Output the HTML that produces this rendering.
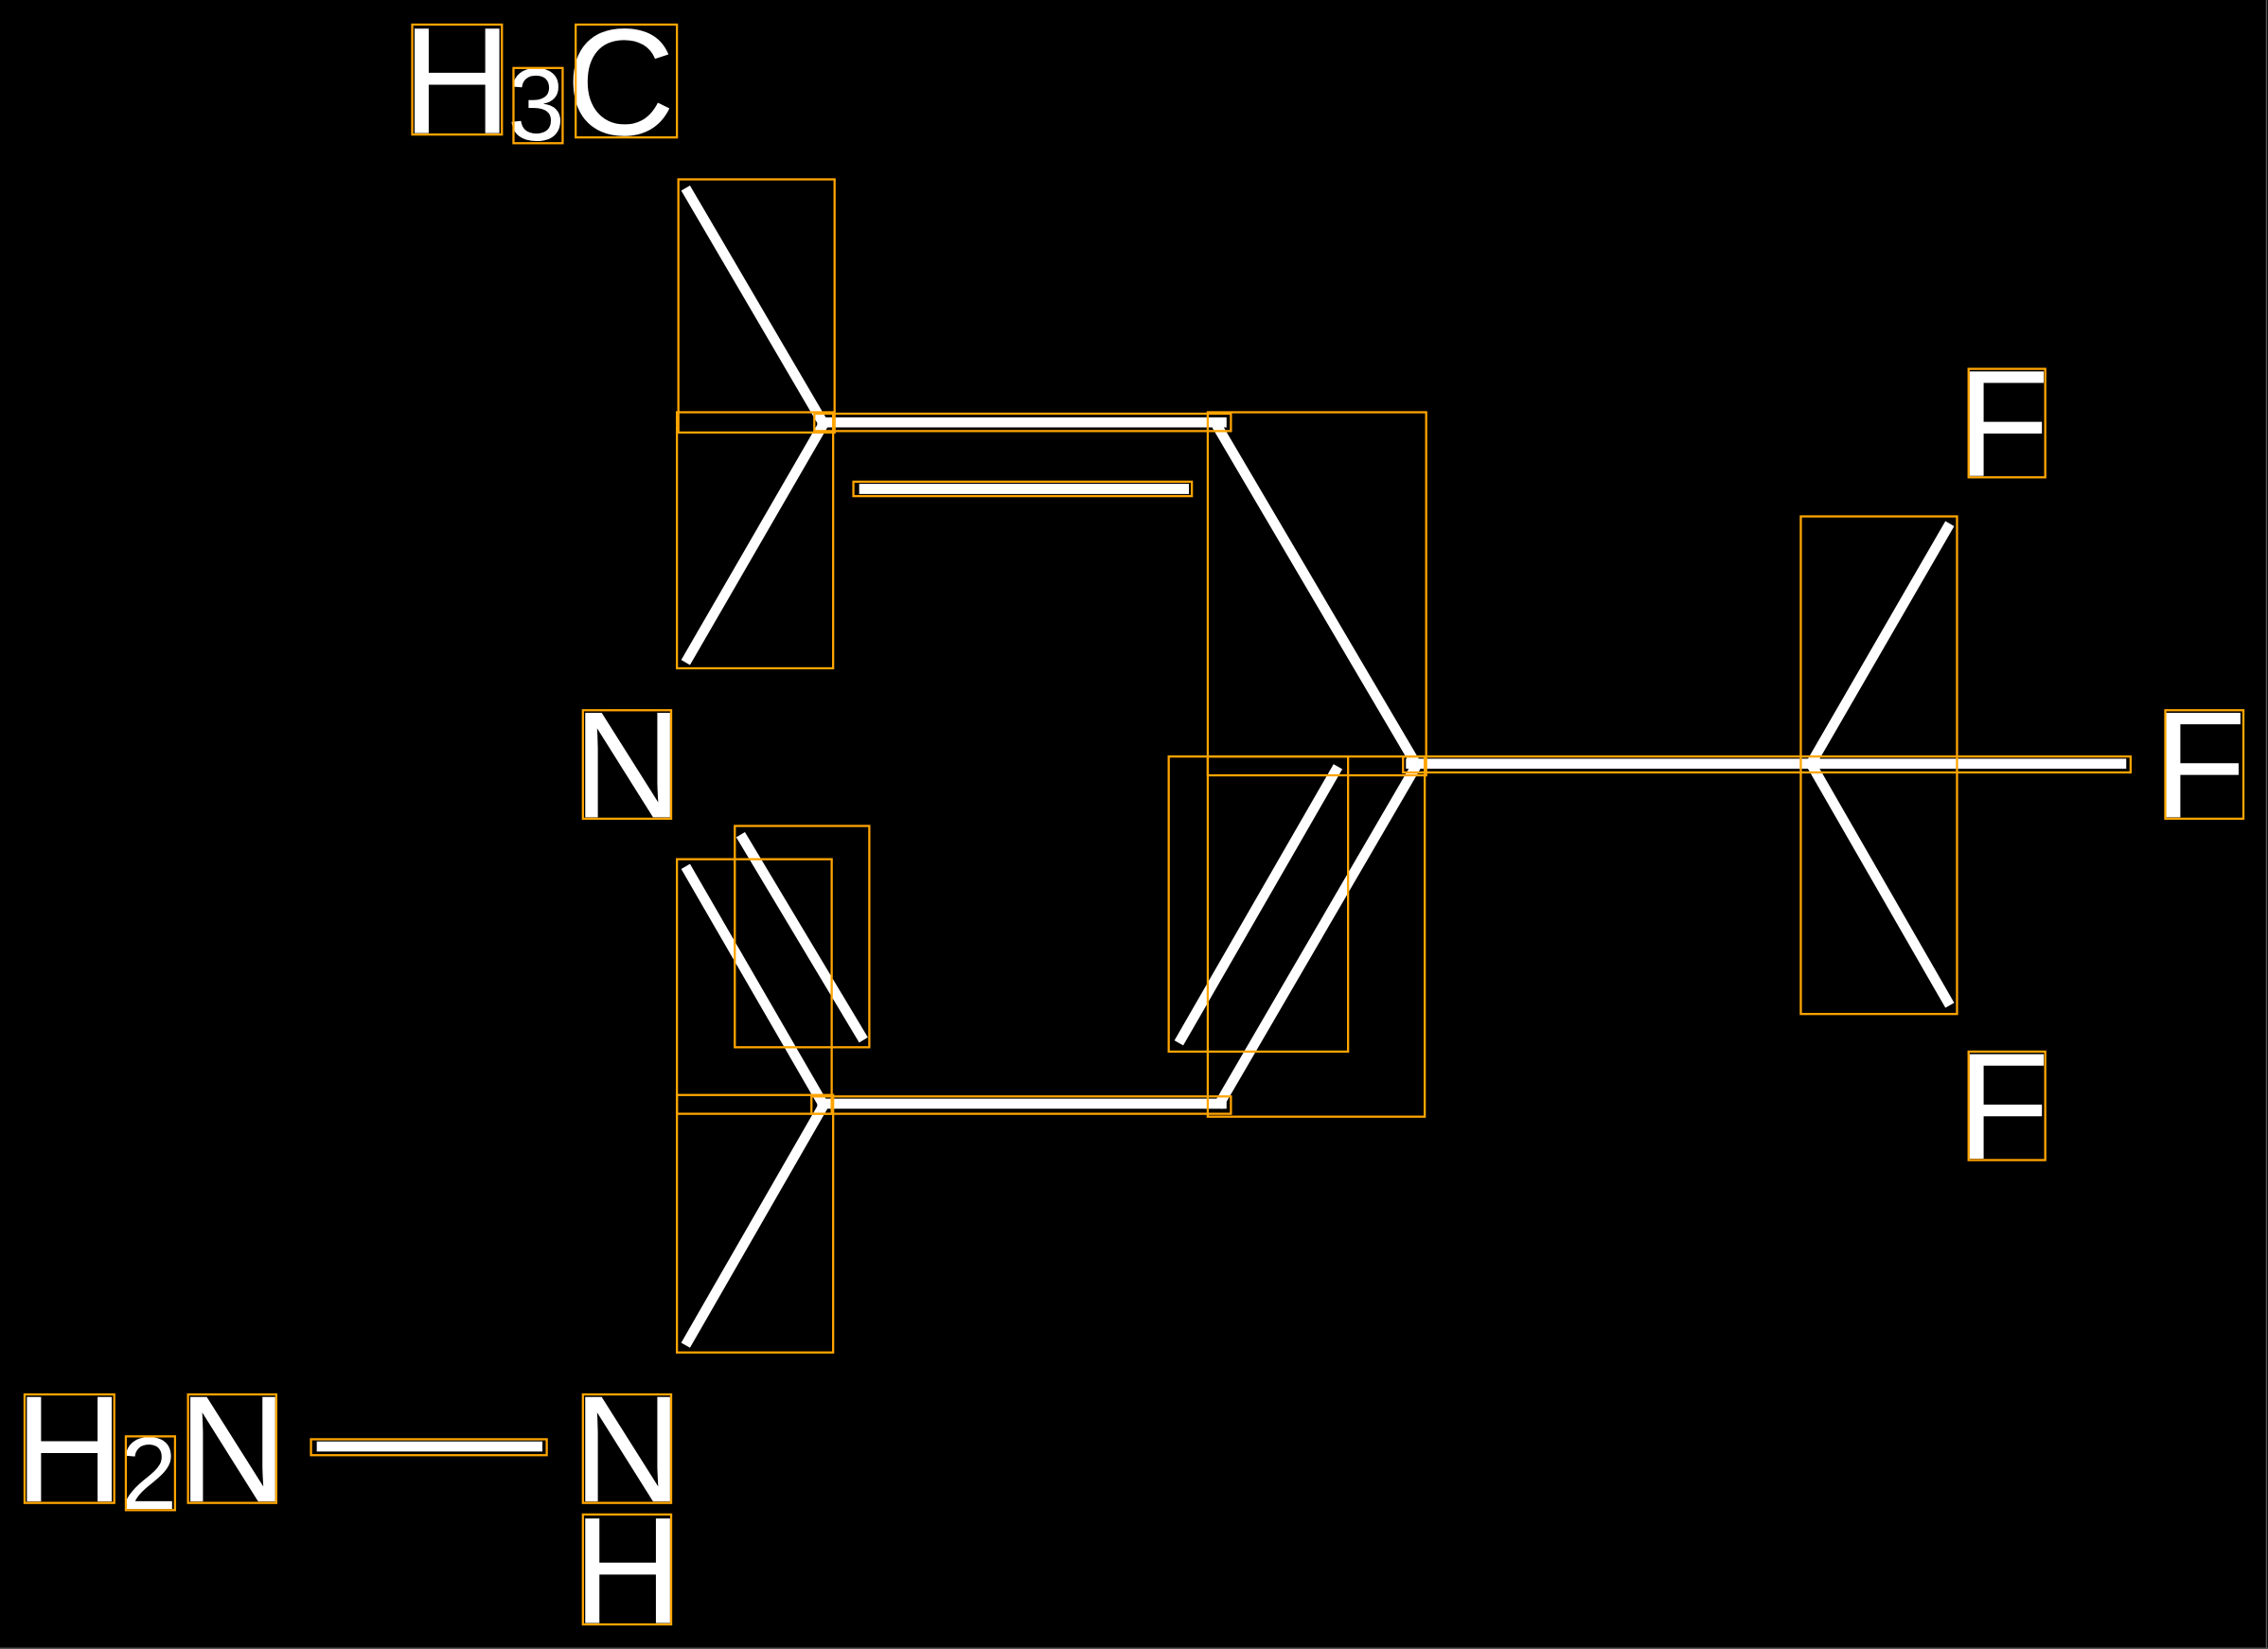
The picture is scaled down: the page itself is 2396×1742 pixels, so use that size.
<!DOCTYPE html>
<html><head><meta charset="utf-8"><style>
html,body{margin:0;padding:0;background:#000;width:2396px;height:1742px;overflow:hidden}
svg{display:block}
text{font-family:"Liberation Sans",sans-serif;fill:#fff}
</style></head><body>
<svg width="2396" height="1742" viewBox="0 0 1568 1140" preserveAspectRatio="none" xmlns="http://www.w3.org/2000/svg">
<rect x="0" y="0" width="1568" height="1140" fill="#000"/>
<line x1="1567" y1="0" x2="1567" y2="1140" stroke="#555" stroke-width="1"/>
<line x1="0" y1="1139.5" x2="1568" y2="1139.5" stroke="#555" stroke-width="1"/>
<g stroke="#fff" stroke-width="7" fill="none">
<line x1="474" y1="130" x2="570" y2="294"/>
<line x1="474" y1="458" x2="570" y2="292"/>
<line x1="565" y1="292" x2="848" y2="292"/>
<line x1="594" y1="338" x2="822" y2="338"/>
<line x1="840" y1="292" x2="980" y2="530"/>
<line x1="972" y1="528" x2="1470" y2="528"/>
<line x1="1252" y1="528" x2="1348" y2="362"/>
<line x1="1252" y1="528" x2="1348" y2="695"/>
<line x1="980" y1="528" x2="842" y2="765"/>
<line x1="925" y1="530" x2="815" y2="721"/>
<line x1="565" y1="763" x2="848" y2="763"/>
<line x1="474" y1="599" x2="570" y2="765"/>
<line x1="512" y1="577" x2="597" y2="719"/>
<line x1="570" y1="763" x2="474" y2="930"/>
<line x1="219" y1="1000" x2="375" y2="1000"/>
</g>
<g font-size="105">
<text x="278" y="92">H</text>
<text x="391" y="93">C</text>
<text x="396" y="565">N</text>
<text x="396" y="1038">N</text>
<text x="396" y="1122">H</text>
<text x="10" y="1038">H</text>
<text x="123" y="1038">N</text>
<text x="1353" y="329">F</text>
<text x="1489" y="565">F</text>
<text x="1353" y="801">F</text>
</g>
<g font-size="71">
<text x="351" y="97">3</text>
<text x="83" y="1043">2</text>
</g>
<g stroke="#ffa500" stroke-width="1.5" fill="none">
<rect x="285" y="17" width="62" height="76"/>
<rect x="355" y="47" width="34" height="52"/>
<rect x="398" y="17" width="70" height="78"/>
<rect x="403" y="491" width="61" height="75"/>
<rect x="403" y="964" width="61" height="75"/>
<rect x="403" y="1047" width="61" height="76"/>
<rect x="17" y="964" width="62" height="75"/>
<rect x="87" y="993" width="34" height="51"/>
<rect x="130" y="964" width="61" height="75"/>
<rect x="1361" y="255" width="53" height="75"/>
<rect x="1497" y="491" width="54" height="75"/>
<rect x="1361" y="727" width="53" height="75"/>
<rect x="469" y="124" width="108" height="175"/>
<rect x="468" y="285" width="108" height="177"/>
<rect x="563" y="286" width="288" height="12"/>
<rect x="590" y="333" width="234" height="10"/>
<rect x="835" y="285" width="151" height="251"/>
<rect x="970" y="523" width="503" height="11"/>
<rect x="1245" y="357" width="108" height="344"/>
<rect x="835" y="523" width="150" height="249"/>
<rect x="808" y="523" width="124" height="204"/>
<rect x="508" y="571" width="93" height="153"/>
<rect x="468" y="594" width="107" height="176"/>
<rect x="561" y="758" width="290" height="12"/>
<rect x="468" y="757" width="108" height="178"/>
<rect x="215" y="995" width="163" height="11"/>
</g>
</svg>
</body></html>
